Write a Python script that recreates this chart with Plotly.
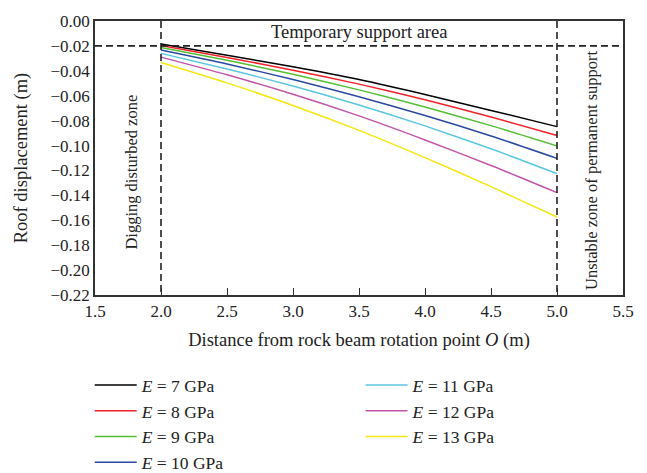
import plotly.graph_objects as go

x_vals = [2.0, 2.5, 3.0, 3.5, 4.0, 4.5, 5.0]

e7 = [-0.0184, -0.0275, -0.0368, -0.0470, -0.0590, -0.0718, -0.0848]
e8 = [-0.0197, -0.0293, -0.0395, -0.0507, -0.0632, -0.0770, -0.0919]
e9 = [-0.0212, -0.0315, -0.0428, -0.0553, -0.0690, -0.0840, -0.1003]
e10 = [-0.0233, -0.0345, -0.0470, -0.0608, -0.0758, -0.0923, -0.1103]
e11 = [-0.0260, -0.0385, -0.0522, -0.0674, -0.0842, -0.1026, -0.1225]
e12 = [-0.0290, -0.0432, -0.0588, -0.0762, -0.0955, -0.1160, -0.1378]
e13 = [-0.0333, -0.0497, -0.0678, -0.0878, -0.1097, -0.1330, -0.1574]

series_names = ["<i>E</i> = 7 GPa", "<i>E</i> = 8 GPa", "<i>E</i> = 9 GPa", "<i>E</i> = 10 GPa",
                "<i>E</i> = 11 GPa", "<i>E</i> = 12 GPa", "<i>E</i> = 13 GPa"]
series_values = [e7, e8, e9, e10, e11, e12, e13]
series_colors = ["#000000", "#f0232a", "#55be35", "#2a4aa0", "#5cc6e0", "#c255aa", "#f5e612"]
series_legend = ["legend", "legend", "legend", "legend", "legend2", "legend2", "legend2"]

x_ticks = [1.5, 2.0, 2.5, 3.0, 3.5, 4.0, 4.5, 5.0, 5.5]
y_ticks = [0.00, -0.02, -0.04, -0.06, -0.08, -0.10, -0.12, -0.14, -0.16, -0.18, -0.20, -0.22]

FONT = "Liberation Serif"

fig = go.Figure()
for name, vals, col, lg in zip(series_names, series_values, series_colors, series_legend):
    fig.add_trace(go.Scatter(x=x_vals, y=vals, mode="lines", name=name,
                             line=dict(color=col, width=1.5, shape="spline", smoothing=0.6),
                             legend=lg))

dash_style = dict(color="#222222", width=1.6, dash="7px,4px")
fig.add_shape(type="line", x0=2.0, x1=2.0, y0=0.0, y1=-0.22, xref="x", yref="y", line=dash_style)
fig.add_shape(type="line", x0=5.0, x1=5.0, y0=0.0, y1=-0.22, xref="x", yref="y", line=dash_style)
fig.add_shape(type="line", x0=1.5, x1=5.5, y0=-0.02, y1=-0.02, xref="x", yref="y", line=dash_style)

fig.add_annotation(x=3.5, y=-0.0085, text="Temporary support area", showarrow=False,
                   font=dict(family=FONT, size=18.5, color="#222222"))
fig.add_annotation(x=1.775, y=-0.1215, text="Digging disturbed zone", showarrow=False, textangle=-90,
                   font=dict(family=FONT, size=16.5, color="#222222"))
fig.add_annotation(x=5.262, y=-0.12, text="Unstable zone of permanent support", showarrow=False, textangle=-90,
                   font=dict(family=FONT, size=16.5, color="#222222"))

legend_common = dict(orientation="v", xanchor="left", yanchor="top", yref="container", y=0.224,
                     itemwidth=42, tracegroupgap=0,
                     font=dict(family=FONT, size=17.5, color="#222222"), bgcolor="rgba(0,0,0,0)")

fig.update_layout(
    width=647, height=473,
    margin=dict(l=95, r=24, t=15, b=178),
    paper_bgcolor="white", plot_bgcolor="white",
    font=dict(family=FONT, size=17, color="#222222"),
    showlegend=True,
    legend=dict(x=-0.01, **legend_common),
    legend2=dict(x=0.503, **legend_common),
    xaxis=dict(range=[1.5, 5.5], tickvals=x_ticks, ticktext=[f"{v:.1f}" for v in x_ticks],
               showgrid=False, zeroline=False, showline=True, linecolor="#333333", linewidth=1.5,
               mirror=True, ticks="inside", ticklen=7, tickcolor="#333333", tickwidth=1.3,
               tickfont=dict(family=FONT, size=17),
               title=dict(text="Distance from rock beam rotation point <i>O</i> (m)",
                          font=dict(family=FONT, size=18.5), standoff=13)),
    yaxis=dict(range=[-0.22, 0.0], tickvals=y_ticks, ticktext=[f"{v:.2f}".replace("-", "−") for v in y_ticks],
               showgrid=False, zeroline=False, showline=True, linecolor="#333333", linewidth=1.5,
               mirror=True, ticks="", tickfont=dict(family=FONT, size=17),
               title=dict(text="Roof displacement (m)", font=dict(family=FONT, size=18.5), standoff=18)),
)

fig.write_html("out.html")
